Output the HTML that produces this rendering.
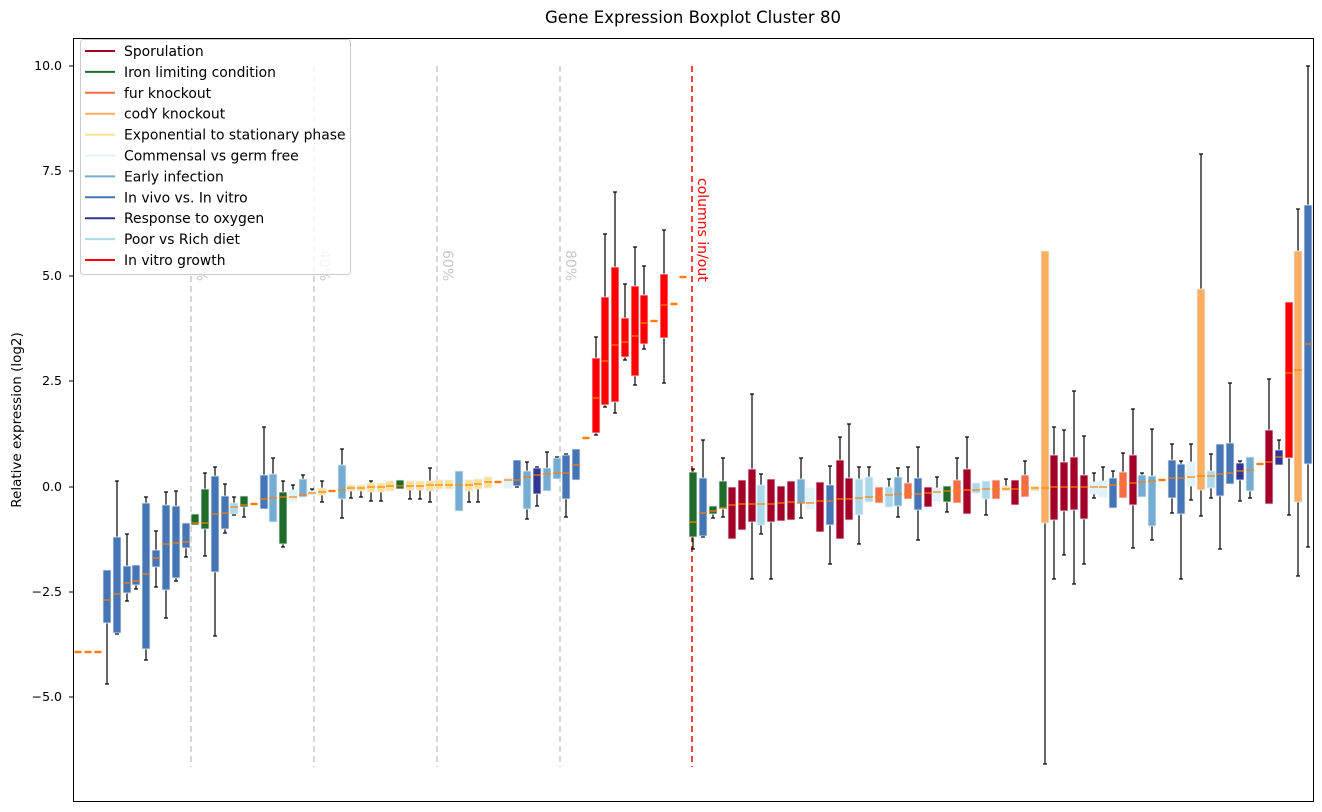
<!DOCTYPE html>
<html><head><meta charset="utf-8">
<style>
body{margin:0;background:#fff;}
svg{display:block;font-family:"DejaVu Sans","Liberation Sans",sans-serif;}
</style></head>
<body>
<svg id="s" width="1322" height="812" xmlns="http://www.w3.org/2000/svg">
<rect width="1322" height="812" fill="#fff"/>
<text x="693" y="23" font-size="16.5" text-anchor="middle" fill="#000">Gene Expression Boxplot Cluster 80</text>
<g id="grid" stroke="#c8c8c8" stroke-width="1.5" stroke-dasharray="6,4">
<line x1="191" y1="66" x2="191" y2="767"/>
<line x1="314" y1="66" x2="314" y2="767"/>
<line x1="437" y1="66" x2="437" y2="767"/>
<line x1="560" y1="66" x2="560" y2="767"/>
</g>
<g fill="#c8c8c8" font-size="14">
<text transform="translate(197,250) rotate(90)">20%</text>
<text transform="translate(320,250) rotate(90)">40%</text>
<text transform="translate(443,250) rotate(90)">60%</text>
<text transform="translate(566,250) rotate(90)">80%</text>
</g>
<line x1="692" y1="66" x2="692" y2="767" stroke="#ff0000" stroke-width="1.5" stroke-dasharray="6,4"/>
<text transform="translate(698,178) rotate(90)" fill="#ff0000" font-size="14">columns in/out</text>
<g id="boxes"></g>
<rect x="73.5" y="38.5" width="1240" height="763" fill="none" stroke="#000" stroke-width="1"/>
<g font-size="12.5" text-anchor="end" fill="#000">
<text x="62" y="70">10.0</text>
<text x="62" y="175">7.5</text>
<text x="62" y="280">5.0</text>
<text x="62" y="385">2.5</text>
<text x="62" y="491">0.0</text>
<text x="62" y="596">−2.5</text>
<text x="62" y="701">−5.0</text>
</g>
<g stroke="#000" stroke-width="1">
<line x1="69" y1="66" x2="73" y2="66"/><line x1="69" y1="171" x2="73" y2="171"/>
<line x1="69" y1="276" x2="73" y2="276"/><line x1="69" y1="381" x2="73" y2="381"/>
<line x1="69" y1="487" x2="73" y2="487"/><line x1="69" y1="592" x2="73" y2="592"/>
<line x1="69" y1="697" x2="73" y2="697"/>
</g>
<text transform="translate(21,420) rotate(-90)" font-size="13.5" text-anchor="middle">Relative expression (log2)</text>
<rect x="80.5" y="39.5" width="270" height="235" rx="3" fill="#fff" fill-opacity="0.8" stroke="#ccc"/>
<g id="leg" font-size="13.9"></g>
</svg>
<script>
var C={S:"#a50026",I:"#1e6b2a",F:"#f46d43",C:"#fdae61",E:"#fee090",M:"#e0f3f8",R:"#74add1",V:"#4575b4",O:"#313695",P:"#abd9e9",G:"#ff0000"};
var leg=[["Sporulation","S"],["Iron limiting condition","I"],["fur knockout","F"],["codY knockout","C"],["Exponential to stationary phase","E"],["Commensal vs germ free","M"],["Early infection","R"],["In vivo vs. In vitro","V"],["Response to oxygen","O"],["Poor vs Rich diet","P"],["In vitro growth","G"]];
var h="";
leg.forEach(function(l,i){var y=51+i*20.9;h+='<line x1="85" y1="'+y+'" x2="115" y2="'+y+'" stroke="'+C[l[1]]+'" stroke-width="2"/><text x="124" y="'+(y+5)+'">'+l[0]+'</text>';});
document.getElementById("leg").innerHTML=h;
var D=[
[78,null,0,0,652],[88,null,0,0,652],[98,null,0,0,652],
[107,"V",570,623,600,null,684],[117,"V",537,633,594,481,634],[127,"V",566,593,583,534,601],[136,"V",565,585,581,null,589],
[146,"V",503,649,574,497,660],[156,"V",550,567,558,531,587],[166,"V",505,590,544,492,618],[176,"V",506,578,543,491,581],
[186,"V",523,548,542,null,557],[195,"I",514,525,523],[205,"I",489,529,523,473,556],[215,"V",476,572,514,467,636],
[225,"V",496,529,513,484,533],[234,"P",503,514,507,497,515],[244,"I",496,507,505,null,517],[254,null,0,0,504],
[264,"V",475,509,499,427],[273,"R",474,522,498,458],[283,"I",492,544,497,481,547],[293,"M",490,501,497,485],
[303,"R",479,497,495,475],[312,"M",491,495,493,489],[322,"E",488,495,492,481,502],[332,null,0,0,491],
[342,"R",465,499,490,449,518],[351,"E",485,491,488,null,498],[361,"E",485,491,488,null,497],[371,"E",483,492,487,481,501],
[381,"E",483,492,487,null,501],[390,"E",481,491,486],[400,"I",480,489,486],[410,"E",481,490,486,null,499],
[420,"E",481,490,486,null,499],[430,"E",481,491,485,468,502],[439,"E",480,489,485],[449,"E",480,489,485],
[459,"R",471,511,485,471],[469,"E",480,491,485,null,502],[478,"E",479,489,484,null,502],[488,"E",477,488,482],
[498,null,0,0,482],[508,"M",478,488,480],[517,"V",460,486,480,null,487],[527,"R",471,509,477,462,519],
[537,"O",468,494,475,467,506],[547,"R",468,491,474,452],[557,"R",458,479,473,457],[566,"V",455,499,473,454,517],
[576,"V",449,480,465,449],[586,null,0,0,438],
[596,"G",358,433,398,337,435],[605,"G",297,405,361,234,407],[615,"G",267,402,345,192,413],[625,"G",318,357,342,284,360],
[635,"G",286,376,336,247,385],[644,"G",295,344,323,266,349],[654,null,0,0,321],[664,"G",274,338,305,230,383],
[674,null,0,0,304],[683,null,0,0,277],
[693,"I",472,537,522,469,549],[703,"V",478,536,513,440,537],[713,"I",506,514,511,null,518],[723,"I",481,509,508,458,517],
[732,"S",487,539,505],[742,"S",480,530,504],[752,"S",469,522,504,394,579],[761,"P",485,525,504,474,534],
[771,"S",479,522,504,null,579],[781,"S",486,521,503],[791,"S",481,520,502],[801,"R",479,503,503,458,518],
[810,"M",488,509,503],[820,"S",482,532,501],[830,"V",485,525,501,466,564],[840,"S",460,539,499,437,539],
[849,"S",478,520,499,424],[859,"P",479,515,498,467,544],[869,"P",477,502,497,467],[879,"F",487,503,497],
[889,"P",487,507,495,479],[898,"R",477,506,494,468,517],[908,"F",483,499,494,467],[918,"V",478,510,494,447,540],
[928,"S",487,507,493],[937,"M",488,501,492,477],[947,"I",486,502,491,null,512],[957,"F",480,503,491,458],
[967,"S",469,514,490,437],[976,"P",483,493,490],[986,"P",481,499,489,null,515],[996,"F",480,499,489],
[1006,"E",486,491,489,479],[1015,"S",480,505,489],[1025,"F",475,497,488,461],[1035,"E",486,491,488],
[1045,"C",251,523,488,null,764],[1054,"S",455,520,487,427,579],[1064,"S",462,511,487,430,555],[1074,"S",457,510,487,391,584],
[1084,"S",475,519,487,436,564],[1094,"M",482,494,487,473,498],[1103,"M",481,497,487,467],[1113,"V",478,508,485,471],
[1123,"F",472,498,484,453],[1133,"S",455,505,483,409,548],[1142,"R",475,497,482,473],[1152,"R",476,526,481,429,540],
[1162,null,0,0,480],[1172,"V",460,498,478,444,513],[1181,"V",464,514,478,461,579],[1191,"M",462,486,477,444,500],
[1201,"C",289,490,476,154,516],[1211,"P",471,488,476,454,498],[1220,"V",444,496,474,null,549],[1230,"V",443,484,473,383],
[1240,"O",463,480,471,461,501],[1250,"R",457,491,470,457,498],[1260,null,0,0,464],[1269,"S",430,504,462,379],
[1279,"O",450,465,457,440],[1289,"G",302,458,373,null,515],[1298,"C",251,502,370,209,576],[1308,"V",205,464,344,66,547]
];
var o="";
D.forEach(function(d){var x=d[0];
if(!d[1]){o+='<line x1="'+(x-2.5)+'" y1="'+d[4]+'" x2="'+(x+2.5)+'" y2="'+d[4]+'" stroke="#ff7f0e" stroke-width="2.5" stroke-linecap="round"/>';return;}
var t=d[2],b=d[3],wt=d[5],wb=d[6];
if(wt!=null&&wt<t){o+='<line x1="'+x+'" y1="'+wt+'" x2="'+x+'" y2="'+t+'" stroke="#000" stroke-width="1.2"/><line x1="'+(x-2)+'" y1="'+wt+'" x2="'+(x+2)+'" y2="'+wt+'" stroke="#000" stroke-width="1.2"/>';}
if(wb!=null&&wb>b){o+='<line x1="'+x+'" y1="'+b+'" x2="'+x+'" y2="'+wb+'" stroke="#000" stroke-width="1.2"/><line x1="'+(x-2)+'" y1="'+wb+'" x2="'+(x+2)+'" y2="'+wb+'" stroke="#000" stroke-width="1.2"/>';}
o+='<rect x="'+(x-4)+'" y="'+t+'" width="8" height="'+Math.max(b-t,2)+'" fill="'+C[d[1]]+'" stroke="#e8eef8" stroke-width="0.8"/>';
o+='<line x1="'+(x-4)+'" y1="'+d[4]+'" x2="'+(x+4)+'" y2="'+d[4]+'" stroke="#ff7f0e" stroke-width="1.2"/>';
});
document.getElementById("boxes").innerHTML=o;
</script>
</body></html>
